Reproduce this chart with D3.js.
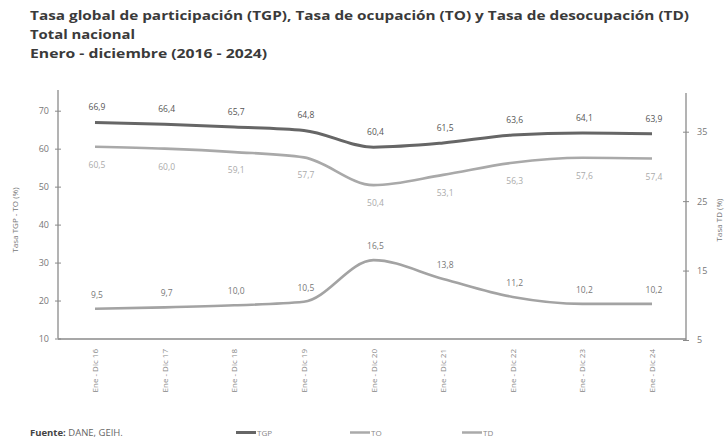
<!DOCTYPE html>
<html><head><meta charset="utf-8">
<script src="https://cdn.jsdelivr.net/npm/d3@7"></script>
<style>
body{margin:0;background:#fff;}
svg{display:block;font-family:"Open Sans",sans-serif;}
</style></head>
<body><svg id="c" width="725" height="440"></svg>
<script>
const categories = ["Ene - Dic 16","Ene - Dic 17","Ene - Dic 18","Ene - Dic 19","Ene - Dic 20","Ene - Dic 21","Ene - Dic 22","Ene - Dic 23","Ene - Dic 24"];
const tgp = [66.9, 66.4, 65.7, 64.8, 60.4, 61.5, 63.6, 64.1, 63.9];
const to  = [60.5, 60.0, 59.1, 57.7, 50.4, 53.1, 56.3, 57.6, 57.4];
const td  = [9.5, 9.7, 10.0, 10.5, 16.5, 13.8, 11.2, 10.2, 10.2];
const leftTicks = [10, 20, 30, 40, 50, 60, 70];
const rightTicks = [5, 15, 25, 35];
const titles = ["Tasa global de participación (TGP), Tasa de ocupación (TO) y Tasa de desocupación (TD)", "Total nacional", "Enero - diciembre (2016 - 2024)"];

const svg = d3.select("#c");
const fmt = v => d3.format(".1f")(v).replace(".", ",");

// titles
const tW = [659, 105, 237];
titles.forEach((t, i) => {
  svg.append("text").attr("x", 30).attr("y", 20 + i * 19)
    .attr("font-size", 13).attr("font-weight", 700).attr("fill", "#3a3a3a")
    .attr("textLength", tW[i]).attr("lengthAdjust", "spacingAndGlyphs").text(t);
});

const x = d3.scalePoint().domain(categories).range([95, 652]);
const yL = d3.scaleLinear().domain([10, 70]).range([338.5, 110.7]);
const yR = d3.scaleLinear().domain([5, 35]).range([340, 131.7]);

const axisCol = "#8a8a8a";
// left axis
const gL = svg.append("g").attr("transform", "translate(58,0)")
  .call(d3.axisLeft(yL).tickValues(leftTicks).tickSize(3).tickPadding(6).tickFormat(d3.format("d")));
gL.select(".domain").remove();
gL.selectAll(".tick line").attr("stroke", axisCol).attr("x2", 3).attr("x1", -3);
gL.selectAll(".tick text").attr("fill", "#777").attr("font-size", 9).attr("font-family", "Open Sans");
svg.append("line").attr("x1", 58).attr("x2", 58).attr("y1", 90).attr("y2", yL(10)).attr("stroke", axisCol).attr("stroke-width", 1.3);

// right axis
const gR = svg.append("g").attr("transform", "translate(686,0)")
  .call(d3.axisRight(yR).tickValues(rightTicks).tickSize(3).tickPadding(8).tickFormat(d3.format("d")));
gR.select(".domain").remove();
gR.selectAll(".tick line").attr("stroke", axisCol).attr("x1", -3).attr("x2", 3);
gR.selectAll(".tick text").attr("fill", "#777").attr("font-size", 9).attr("font-family", "Open Sans");
svg.append("line").attr("x1", 686).attr("x2", 686).attr("y1", 93).attr("y2", yR(5)).attr("stroke", axisCol).attr("stroke-width", 1.3);

// x axis baseline
svg.append("line").attr("x1", 58).attr("x2", 686).attr("y1", 339).attr("y2", 339).attr("stroke", axisCol).attr("stroke-width", 1.3);

// x labels
categories.forEach(c => {
  svg.append("text").attr("transform", `translate(${x(c) + 3},349) rotate(-90)`)
    .attr("text-anchor", "end").attr("font-size", 8).attr("fill", "#888").text(c);
});

// axis titles
svg.append("text").attr("transform", "translate(18,220) rotate(-90)")
  .attr("text-anchor", "middle").attr("font-size", 8).attr("fill", "#777").text("Tasa TGP - TO (%)");
svg.append("text").attr("transform", "translate(722,220) rotate(-90)")
  .attr("text-anchor", "middle").attr("font-size", 8).attr("fill", "#777").text("Tasa TD (%)");

const line = (data, y) => d3.line().x((d, i) => x(categories[i])).y(d => y(d)).curve(d3.curveMonotoneX)(data);

svg.append("path").attr("d", line(to, yL)).attr("fill", "none").attr("stroke", "#a9a9a9").attr("stroke-width", 2.6);
svg.append("path").attr("d", line(td, yR)).attr("fill", "none").attr("stroke", "#a3a3a3").attr("stroke-width", 2.6);
svg.append("path").attr("d", line(tgp, yL)).attr("fill", "none").attr("stroke", "#666").attr("stroke-width", 3);

// labels
const addLabels = (data, y, dy, col) => {
  data.forEach((v, i) => {
    svg.append("text").attr("x", x(categories[i]) + 2).attr("y", y(v) + dy)
      .attr("text-anchor", "middle").attr("font-size", 8.5).attr("fill", col).text(fmt(v));
  });
};
addLabels(tgp, yL, -12, "#555");
addLabels(to, yL, 21, "#aaa");
addLabels(td, yR, -11, "#777");

// footer
const f = svg.append("text").attr("x", 30).attr("y", 436).attr("font-size", 9.5).attr("fill", "#666");
f.append("tspan").attr("font-weight", 700).attr("fill", "#444").text("Fuente:");
f.append("tspan").text(" DANE, GEIH.");

const legend = [["TGP", "#666", 3, 236], ["TO", "#aaa", 2.5, 350], ["TD", "#aaa", 2.5, 462]];
legend.forEach(([n, c, w, lx]) => {
  svg.append("line").attr("x1", lx).attr("x2", lx + 20).attr("y1", 432.5).attr("y2", 432.5).attr("stroke", c).attr("stroke-width", w);
  svg.append("text").attr("x", lx + 21).attr("y", 436).attr("font-size", 8).attr("fill", "#888").text(n);
});
</script></body></html>
